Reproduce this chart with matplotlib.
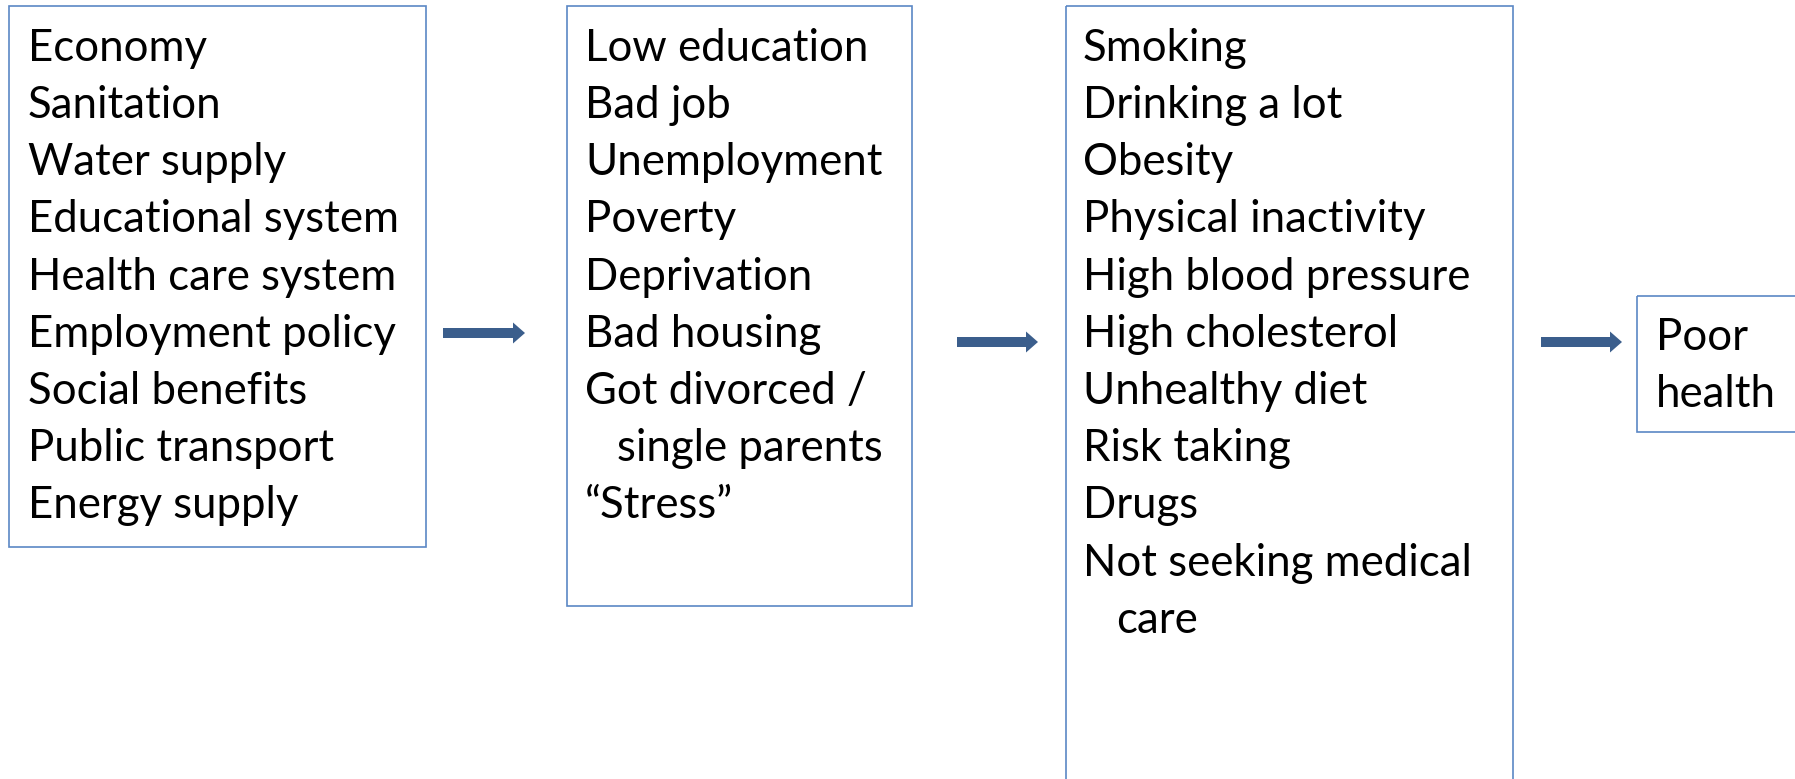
import matplotlib
matplotlib.use("Agg")
import matplotlib.pyplot as plt
from matplotlib.patches import Rectangle, FancyArrow

# ---- content ----
box1_lines = ["Economy", "Sanitation", "Water supply", "Educational system",
              "Health care system", "Employment policy", "Social benefits",
              "Public transport", "Energy supply"]
box2_lines = ["Low education", "Bad job", "Unemployment", "Poverty",
              "Deprivation", "Bad housing", "Got divorced /",
              "   single parents", "\u201cStress\u201d"]
box3_lines = ["Smoking", "Drinking a lot", "Obesity", "Physical inactivity",
              "High blood pressure", "High cholesterol", "Unhealthy diet",
              "Risk taking", "Drugs", "Not seeking medical", "   care"]
box4_lines = ["Poor", "health"]

W, H = 1795, 779
fig = plt.figure(figsize=(W / 100, H / 100), dpi=100)
ax = fig.add_axes([0, 0, 1, 1])
ax.set_xlim(0, W)
ax.set_ylim(H, 0)
ax.axis("off")

EDGE = "#5B87C5"
ARROW = "#3B5E8C"
FONT = "Lato"
FS = 31.5
LINE = 57.2

def box(x0, y0, x1, y1):
    ax.add_patch(Rectangle((x0, y0), x1 - x0, y1 - y0, fill=False,
                           edgecolor=EDGE, linewidth=1.2))

def lines(x, y0, items, indent_x=None):
    for i, t in enumerate(items):
        xx = x
        if t.startswith("   ") and indent_x is not None:
            xx = indent_x
        ax.text(xx, y0 + i * LINE, t.strip(), fontsize=FS, family=FONT,
                ha="left", va="baseline", color="black")

def arrow(x0, x1, y):
    ax.add_patch(FancyArrow(x0, y, x1 - x0, 0, width=10, head_width=21,
                            head_length=12, length_includes_head=True,
                            color=ARROW, linewidth=0))

box(9, 6, 426, 547)
lines(28, 60.7, box1_lines)

box(567, 6, 912, 606)
lines(585, 60.7, box2_lines, indent_x=617)

box(1066, 6, 1513, 790)
lines(1083, 60.7, box3_lines, indent_x=1116)

box(1637, 296, 1810, 432)
lines(1656, 350, box4_lines)

arrow(443, 525, 333)
arrow(957, 1038, 342)
arrow(1541, 1622, 342)

fig.savefig("out.png", dpi=100)
